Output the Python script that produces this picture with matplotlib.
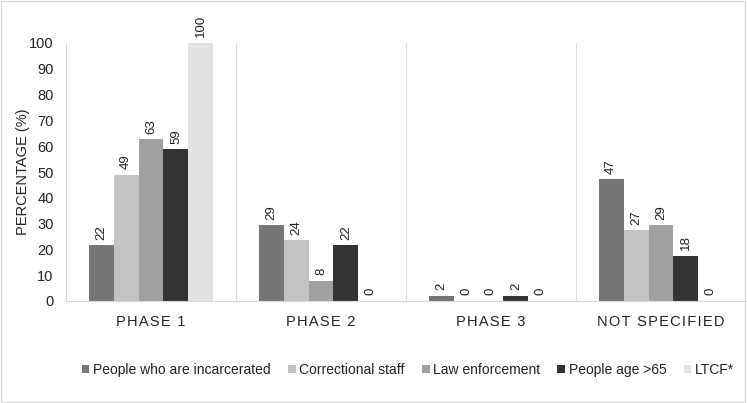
import matplotlib
matplotlib.use("Agg")
import matplotlib.pyplot as plt
import numpy as np
from matplotlib.patches import Rectangle

plt.rcParams['font.family'] = ['Liberation Sans', 'DejaVu Sans']

categories = ["PHASE 1", "PHASE 2", "PHASE 3", "NOT SPECIFIED"]
series_names = ["People who are incarcerated", "Correctional staff", "Law enforcement",
                "People age >65", "LTCF*"]
incarcerated = [21.6, 29.4, 2.0, 47.1]
correctional = [49.0, 23.5, 0.0, 27.4]
law_enf = [62.7, 7.8, 0.0, 29.4]
age65 = [58.8, 21.6, 2.0, 17.6]
ltcf = [100.0, 0.0, 0.0, 0.0]
values = [incarcerated, correctional, law_enf, age65, ltcf]
colors = ["#767676", "#c3c3c3", "#a0a0a0", "#333333", "#e2e2e2"]

fig = plt.figure(figsize=(7.47, 4.03), dpi=100)
fig.patches.append(Rectangle((0.002, 0.003), 0.995, 0.994, transform=fig.transFigure,
                             fill=False, edgecolor="#d9d9d9", lw=1))
ax = fig.add_axes([66/747, 102/403, 680/747, 258/403])

x = np.arange(len(categories))
w = 0.147
for i, (name, vals, c) in enumerate(zip(series_names, values, colors)):
    pos = x + (i - 2) * w
    ax.bar(pos, vals, width=w, color=c, label=name, clip_on=False)
    for p, v in zip(pos, vals):
        ax.annotate(f"{round(v):d}", (p, v), xytext=(0, 4), textcoords="offset points",
                    rotation=90, ha="center", va="bottom", fontsize=9.5, color="#222222",
                    annotation_clip=False)

ax.set_xlim(-0.5, 3.5)
ax.set_ylim(0, 100)
ax.set_yticks(range(0, 101, 10))
ax.set_xticks(x)
spaced = ["\u200a".join(list(c)) for c in categories]
ax.set_xticklabels(spaced, fontsize=10.5, color="#222222")
ax.tick_params(axis='y', length=0, labelsize=10.5, colors="#222222", pad=9)
ax.tick_params(axis='x', length=0, colors="#222222", pad=10)
for b in [0.5, 1.5, 2.5]:
    ax.axvline(b, color="#dcdcdc", lw=0.8)
for s in ["top", "right"]:
    ax.spines[s].set_visible(False)
for s in ["left", "bottom"]:
    ax.spines[s].set_color("#d9d9d9")
    ax.spines[s].set_linewidth(0.8)
ax.set_ylabel("PERCENTAGE (%)", fontsize=10.5, color="#222222", labelpad=-1)

fig.legend(loc="center", bbox_to_anchor=(0.546, 0.082), ncol=5, frameon=False,
           fontsize=10, handlelength=0.55, handleheight=0.55, handletextpad=0.25,
           columnspacing=1.25, labelcolor="#222222")

fig.savefig("out.png", dpi=100)
